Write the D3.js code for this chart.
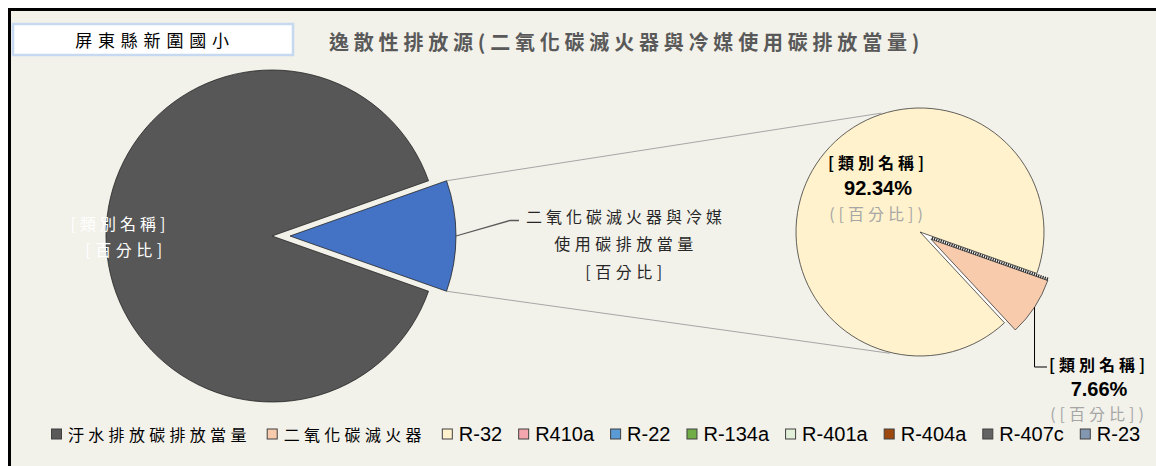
<!DOCTYPE html>
<html>
<head>
<meta charset="utf-8">
<script src="https://cdn.jsdelivr.net/npm/d3@7"></script>
<style>
  body { margin: 0; background: #fff; }
  svg { display: block; }
</style>
</head>
<body>
<svg id="chart"></svg>
<script>
const schoolName = "屏東縣新圍國小";
const chartTitle = "逸散性排放源(二氧化碳滅火器與冷媒使用碳排放當量)";

// first pie: whole fugitive emissions
const mainCategories = ["汙水排放碳排放當量", "二氧化碳滅火器與冷媒使用碳排放當量"];
const mainValues = [89.2, 10.8];
const mainColors = ["#575757", "#4472C4"];

// second pie: breakdown of the blue slice
const subCategories = ["二氧化碳滅火器", "R-32", "R410a", "R-22", "R-134a", "R-401a", "R-404a", "R-407c", "R-23"];
const subValues = [7.66, 92.34, 0, 0, 0, 0, 0, 0, 0];
const subColors = ["#F8CBAD", "#FFF2CC", "#F4A6AE", "#5B9BD5", "#70AD47", "#E2F0D9", "#9E480E", "#636363", "#8497B0"];

// legend
const legendLabels = ["汙水排放碳排放當量", "二氧化碳滅火器", "R-32", "R410a", "R-22", "R-134a", "R-401a", "R-404a", "R-407c", "R-23"];
const legendColors = ["#595959", "#F8CBAD", "#FFF2CC", "#F4A6AE", "#5B9BD5", "#70AD47", "#E2F0D9", "#9E480E", "#636363", "#8497B0"];

const width = 1156;
const height = 466;
const cjk = "'Noto Sans CJK TC', 'Noto Sans CJK SC', sans-serif";
const latin = "'Liberation Sans', Arial, sans-serif";
const bg = "#F2F1EA";

const svg = d3.select("#chart").attr("width", width).attr("height", height);

// frame
svg.append("rect").attr("width", width).attr("height", height).attr("fill", "#fff");
svg.append("rect")
  .attr("x", 9.5).attr("y", 9.5)
  .attr("width", width + 20).attr("height", height + 20)
  .attr("fill", bg)
  .attr("stroke", "#000")
  .attr("stroke-width", 3);

const mainC = { x: 272, y: 236 };
const mainR = 166;
const subC = { x: 920, y: 232 };
const subR = 124;

const polar = (c, r, a) => [c.x + r * Math.sin(a), c.y - r * Math.cos(a)];
const rad = (deg) => (deg * Math.PI) / 180;

// ---- first pie
const mainSum = d3.sum(mainValues);
const mainStart = Math.PI / 2 + (Math.PI * mainValues[1]) / mainSum;
const mainPie = d3.pie().sort(null).startAngle(mainStart).endAngle(mainStart + 2 * Math.PI);
const mainArcs = mainPie(mainValues);
const mainArc = d3.arc().innerRadius(0).outerRadius(mainR);
const mainExplode = [0, 18];
const offsetOf = (d, dist) => {
  const m = (d.startAngle + d.endAngle) / 2;
  return [dist * Math.sin(m), -dist * Math.cos(m)];
};

// ---- second pie
const subStart = rad(109.5);
const subPie = d3.pie().sort(null).startAngle(subStart).endAngle(subStart + 2 * Math.PI);
const subArcs = subPie(subValues);
const subArc = d3.arc().innerRadius(0).outerRadius(subR);
const subExplode = [13, 0, 0, 0, 0, 0, 0, 0, 0];

// connector lines between the blue slice and the second pie
const blue = mainArcs[1];
const bOff = offsetOf(blue, mainExplode[1]);
const blueC = { x: mainC.x + bOff[0], y: mainC.y + bOff[1] };
const connectors = [
  [polar(blueC, mainR, blue.startAngle), polar(subC, subR + 1, rad(-18))],
  [polar(blueC, mainR, blue.endAngle), polar(subC, subR + 1, rad(194))],
];
svg.append("g")
  .selectAll("line")
  .data(connectors)
  .join("line")
  .attr("x1", (d) => d[0][0]).attr("y1", (d) => d[0][1])
  .attr("x2", (d) => d[1][0]).attr("y2", (d) => d[1][1])
  .attr("stroke", "#A6A6A6")
  .attr("stroke-width", 1);

svg.append("g")
  .attr("transform", `translate(${mainC.x},${mainC.y})`)
  .selectAll("path")
  .data(mainArcs)
  .join("path")
  .attr("d", mainArc)
  .attr("transform", (d, i) => {
    const o = offsetOf(d, mainExplode[i]);
    return `translate(${o[0]},${o[1]})`;
  })
  .attr("fill", (d, i) => mainColors[i])
  .attr("stroke", "#262626")
  .attr("stroke-width", 0.8)
  .attr("stroke-linejoin", "round");

// second pie
const subG = svg.append("g").attr("transform", `translate(${subC.x},${subC.y})`);
const peach = subArcs[0];
subG.append("path")
  .attr("d", subArc(peach))
  .attr("fill", "#fff");
subG.selectAll("path.slice")
  .data(subArcs.filter((d) => d.value > 0))
  .join("path")
  .attr("class", "slice")
  .attr("d", subArc)
  .attr("transform", (d) => {
    const o = offsetOf(d, subExplode[d.index]);
    return `translate(${o[0]},${o[1]})`;
  })
  .attr("fill", (d) => subColors[d.index])
  .attr("stroke", "#3a3a3a")
  .attr("stroke-width", 0.8)
  .attr("stroke-linejoin", "round");

// zero slices collapse onto the top edge of the exploded slice
const pOff = offsetOf(peach, subExplode[0]);
subG.selectAll("line.zero")
  .data(subArcs.filter((d) => d.value === 0).slice(-1))
  .join("line")
  .attr("class", "zero")
  .attr("x1", pOff[0] + 1).attr("y1", pOff[1] - 1.2)
  .attr("x2", (d) => pOff[0] + subR * Math.sin(peach.startAngle) + 0.5)
  .attr("y2", (d) => pOff[1] - subR * Math.cos(peach.startAngle) - 1.2)
  .attr("stroke", "#2b2b2b")
  .attr("stroke-width", 3)
  .attr("stroke-dasharray", "1.3,1");

const pct = d3.format(".2%");
const subSum = d3.sum(subValues);

// ---- labels
const cjkText = (g, txt, x, y, opts = {}) =>
  g.append("text")
    .attr("x", x).attr("y", y)
    .attr("text-anchor", opts.anchor || "middle")
    .attr("dominant-baseline", "central")
    .attr("font-family", opts.family || cjk)
    .attr("font-size", opts.size || 16)
    .attr("font-weight", opts.weight || "normal")
    .attr("letter-spacing", opts.ls === undefined ? 4.5 : opts.ls)
    .attr("fill", opts.color || "#262626")
    .text(txt);

const labels = svg.append("g");

// first pie, gray slice (white text)
cjkText(labels, "[類別名稱]", mainC.x - 152, mainC.y - 13, { color: "#fff", ls: 4 });
cjkText(labels, "[百分比]", mainC.x - 146, mainC.y + 13, { color: "#fff" });

// blue slice label with leader
const blueMid = polar(blueC, mainR, (blue.startAngle + blue.endAngle) / 2);
const midLabel = { x: 626, y: 215.5 };
svg.append("path")
  .attr("d", d3.line()([blueMid, [midLabel.x - 116, midLabel.y + 5], [midLabel.x - 107, midLabel.y + 5]]))
  .attr("fill", "none")
  .attr("stroke", "#595959")
  .attr("stroke-width", 1.3);
cjkText(labels, "二氧化碳滅火器與冷媒", midLabel.x, midLabel.y, { ls: 4 });
cjkText(labels, "使用碳排放當量", midLabel.x, midLabel.y + 27.5);
cjkText(labels, "[百分比]", midLabel.x, midLabel.y + 55);

// second pie, cream slice
const creamLab = { x: subC.x - 42, y: subC.y - 70 };
cjkText(labels, "[類別名稱]", creamLab.x, creamLab.y, { weight: "bold", color: "#000", ls: 4 });
labels.append("text")
  .attr("x", creamLab.x).attr("y", creamLab.y + 26)
  .attr("text-anchor", "middle").attr("dominant-baseline", "central")
  .attr("font-family", latin).attr("font-size", 20).attr("font-weight", "bold")
  .attr("fill", "#000")
  .text(pct(subValues[1] / subSum));
cjkText(labels, "([百分比])", creamLab.x, creamLab.y + 51, { color: "#A6A6A6", ls: 4 });

// second pie, peach slice label with elbow leader
const peachC = { x: subC.x + pOff[0], y: subC.y + pOff[1] };
const peachMid = polar(peachC, subR, (peach.startAngle + peach.endAngle) / 2);
const peachLab = { x: 1099, y: 364 };
svg.append("path")
  .attr("d", d3.line()([peachMid, [peachMid[0], peachLab.y + 3], [peachLab.x - 52, peachLab.y + 3]]))
  .attr("fill", "none")
  .attr("stroke", "#000")
  .attr("stroke-width", 1);
cjkText(labels, "[類別名稱]", peachLab.x, peachLab.y, { weight: "bold", color: "#000", ls: 4 });
labels.append("text")
  .attr("x", peachLab.x).attr("y", peachLab.y + 25)
  .attr("text-anchor", "middle").attr("dominant-baseline", "central")
  .attr("font-family", latin).attr("font-size", 20).attr("font-weight", "bold")
  .attr("fill", "#000")
  .text(pct(subValues[0] / subSum));
cjkText(labels, "([百分比])", peachLab.x, peachLab.y + 49, { color: "#A6A6A6", ls: 4 });

// ---- title & school box
svg.append("rect")
  .attr("x", 13).attr("y", 24)
  .attr("width", 280).attr("height", 31)
  .attr("fill", "#fff")
  .attr("stroke", "#C6D9F1")
  .attr("stroke-width", 2.5);
cjkText(svg, schoolName, 155, 39.5, { size: 17, ls: 5.8, color: "#000" });
cjkText(svg, chartTitle, 329, 41, { anchor: "start", size: 20, weight: "bold", ls: 4.8, color: "#595959" });

// ---- legend
const legend = svg.append("g");
const legendY = 434;
let lx = 51;
legendLabels.forEach((label, i) => {
  const isCjk = /[\u4e00-\u9fff]/.test(label);
  legend.append("rect")
    .attr("x", lx + 0.5).attr("y", legendY - 5)
    .attr("width", 10).attr("height", 10)
    .attr("fill", legendColors[i])
    .attr("stroke", "#404040")
    .attr("stroke-width", 1);
  const t = legend.append("text")
    .attr("x", lx + 17).attr("y", legendY)
    .attr("dominant-baseline", "central")
    .attr("font-family", isCjk ? cjk : latin)
    .attr("font-size", isCjk ? 16 : 20)
    .attr("letter-spacing", isCjk ? 4.3 : 0)
    .attr("fill", "#000")
    .text(label);
  lx += 17 + t.node().getComputedTextLength() + 16;
});
</script>
</body>
</html>
